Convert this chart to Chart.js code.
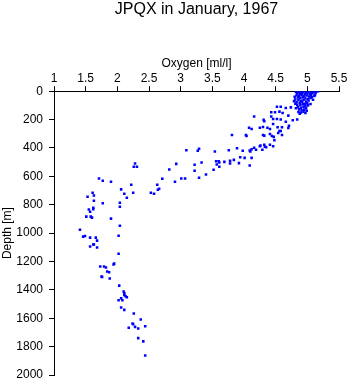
<!DOCTYPE html>
<html>
<head>
<meta charset="utf-8">
<script src="https://cdn.jsdelivr.net/npm/chart.js@4"></script>
<style>
  body { margin: 0; background: #fff; }
  #wrap { width: 350px; height: 384px; }
</style>
</head>
<body>
<div id="wrap"><canvas id="grafica" width="350" height="384"></canvas></div>
<script>
// values
const oxygen = [
  4.82, 4.86, 4.90, 4.94, 4.98, 5.02, 5.06, 5.10, 5.14, 5.17,
  4.84, 4.88, 4.92, 4.96, 5.00, 5.04, 5.08, 5.12, 4.83, 4.87,
  4.91, 4.95, 4.99, 5.03, 5.07, 5.11, 4.85, 4.89, 4.93, 4.97,
  5.01, 5.05, 5.09, 4.81, 4.86, 4.90, 4.94, 4.98, 5.02, 4.83,
  4.88, 4.92, 4.96, 5.00, 4.84, 4.89, 4.93, 4.97, 5.01, 4.85,
  4.90, 4.94, 4.98, 4.87, 4.91, 4.95, 4.99, 4.86, 4.90, 4.94,
  4.97, 4.80, 4.81, 4.82, 5.05, 5.06, 5.13, 4.79, 4.88,
  4.52, 4.58, 4.66, 4.74, 4.43, 4.49, 4.56, 4.61, 4.16, 4.31,
  4.32, 4.43, 4.46, 4.52, 4.58, 4.70, 4.77, 4.84, 4.66, 4.46,
  4.08, 4.12, 4.25, 4.30, 4.37, 4.41, 4.53, 4.60, 4.71, 4.70,
  3.81, 4.03, 4.04, 4.30, 4.32, 4.41, 4.44, 4.47, 4.54, 4.56,
  4.58, 4.60, 4.48, 4.41, 4.46, 4.25, 4.26, 4.32, 4.33, 4.35,
  4.29, 4.19, 4.16, 4.09, 4.10, 4.12, 3.98, 3.89, 3.76, 3.54,
  3.29, 3.27, 3.09,
  4.12, 4.01, 3.94, 3.84, 3.78, 3.78, 3.92, 3.69, 3.61, 3.60,
  3.56, 3.57, 3.61, 3.33, 3.22, 3.22, 3.52, 3.40, 3.29, 4.09,
  2.93, 2.82, 3.01, 3.07, 2.91, 2.71, 2.63, 2.64, 2.66, 2.53,
  2.58,
  2.28, 2.26, 2.31, 1.71, 1.77, 1.90, 2.22, 2.06, 1.61, 1.63,
  1.53, 2.11, 2.25, 2.15, 1.63, 1.77, 2.04, 2.04, 1.55, 1.57,
  1.62, 1.62, 1.51, 1.58, 1.60, 1.90, 2.04, 1.41,
  1.46, 1.49, 1.57, 1.66, 1.68, 1.62, 1.63, 1.57, 1.68, 2.02,
  2.02, 1.95, 1.94, 1.73, 1.79, 1.82, 1.84, 1.87, 1.75, 1.76,
  1.88, 2.03, 2.10, 2.11, 2.11, 2.15, 2.13, 2.06, 2.02, 2.08,
  2.06, 2.11, 2.26, 2.37, 2.24, 2.25, 2.44, 2.18, 2.28, 2.33,
  2.33, 2.41, 2.44
];
const depth = [
  5, 3, 8, 2, 6, 4, 10, 6, 2, 0,
  15, 18, 14, 20, 16, 22, 14, 28, 28, 32,
  26, 35, 30, 38, 42, 34, 45, 48, 42, 52,
  55, 48, 60, 58, 62, 68, 60, 72, 66, 78,
  82, 76, 88, 84, 95, 98, 92, 104, 100, 112,
  116, 110, 120, 128, 134, 130, 138, 146, 150, 144,
  154, 40, 88, 120, 90, 28, 12, 70, 158,
  109, 109, 118, 114, 149, 149, 144, 154, 179, 202,
  212, 179, 196, 196, 200, 172, 205, 200, 216, 231,
  257, 266, 257, 252, 257, 266, 254, 254, 243, 259,
  308, 308, 315, 308, 313, 301, 315, 322, 294, 280,
  280, 308, 346, 378, 388, 388, 383, 378, 392, 395,
  413, 413, 399, 418, 425, 409, 420, 402, 416, 425,
  406, 420, 416,
  470, 470, 465, 484, 491, 510, 507, 498, 503, 493,
  493, 517, 533, 503, 519, 561, 554, 587, 610, 524,
  512, 552, 615, 615, 638, 617, 659, 695, 688, 716,
  723,
  510, 533, 533, 615, 631, 638, 659, 692, 716, 735,
  744, 723, 716, 751, 772, 789, 786, 814, 833, 849,
  821, 831, 884, 884, 891, 898, 948, 976,
  1025, 1021, 1032, 1032, 1053, 1081, 1081, 1095, 1102, 1018,
  1145, 1215, 1222, 1236, 1236, 1243, 1271, 1276, 1306, 1309,
  1320, 1370, 1412, 1424, 1436, 1452, 1445, 1459, 1473, 1473,
  1524, 1541, 1567, 1609, 1637, 1642, 1656, 1667, 1661, 1672,
  1740, 1763, 1862
];
const oxygenTicks = [1, 1.5, 2, 2.5, 3, 3.5, 4, 4.5, 5, 5.5];
const depthTicks = [0, 200, 400, 600, 800, 1000, 1200, 1400, 1600, 1800, 2000];

const puntos = oxygen.map((o, i) => ({ x: o, y: depth[i] }));
const fuente = 'Liberation Sans, Arial, Helvetica, sans-serif';

new Chart(document.getElementById('grafica').getContext('2d'), {
  type: 'scatter',
  data: {
    datasets: [
      {
        data: puntos,
        pointStyle: 'rect',
        pointRadius: 1.8,
        pointBackgroundColor: '#0000ff',
        pointBorderColor: '#0000ff',
        pointBorderWidth: 0
      }
    ]
  },
  options: {
    responsive: false,
    animation: false,
    layout: {
      padding: { left: 0, right: 11, top: 0, bottom: 9 }
    },
    scales: {
      x: {
        type: 'linear',
        position: 'top',
        min: 1,
        max: 5.5,
        afterBuildTicks: s => { s.ticks = oxygenTicks.map(v => ({ value: v })); },
        afterFit: s => {
          s.height = 72;
          s.paddingLeft = 0;
          s.paddingRight = 0;
        },
        grid: {
          drawOnChartArea: false,
          drawTicks: true,
          tickLength: 5,
          color: '#000'
        },
        border: { display: true, color: '#000', width: 1 },
        ticks: {
          color: '#000',
          padding: 0,
          maxRotation: 0,
          font: { family: fuente, size: 12 },
          callback: v => String(v)
        },
        title: {
          display: true,
          text: 'Oxygen [ml/l]',
          color: '#000',
          padding: { top: 37, bottom: 0 },
          font: { family: fuente, size: 12 }
        }
      },
      y: {
        type: 'linear',
        reverse: true,
        min: 0,
        max: 2000,
        afterBuildTicks: s => { s.ticks = depthTicks.map(v => ({ value: v })); },
        afterFit: s => {
          s.width = 54;
          s.paddingTop = 0;
          s.paddingBottom = 0;
        },
        grid: {
          drawOnChartArea: false,
          drawTicks: true,
          tickLength: 5,
          color: '#000'
        },
        border: { display: true, color: '#000', width: 1 },
        ticks: {
          color: '#000',
          padding: 6,
          font: { family: fuente, size: 12 },
          callback: v => String(v)
        },
        title: {
          display: true,
          text: 'Depth [m]',
          color: '#000',
          padding: { top: 0, bottom: 0 },
          font: { family: fuente, size: 12 }
        }
      }
    },
    plugins: {
      legend: { display: false },
      tooltip: { enabled: false },
      title: {
        display: true,
        fullSize: false,
        text: 'JPQX in January, 1967',
        color: '#000',
        padding: { top: 0, bottom: 0 },
        font: { family: fuente, size: 16, weight: 'normal' }
      }
    }
  }
});
</script>
</body>
</html>
